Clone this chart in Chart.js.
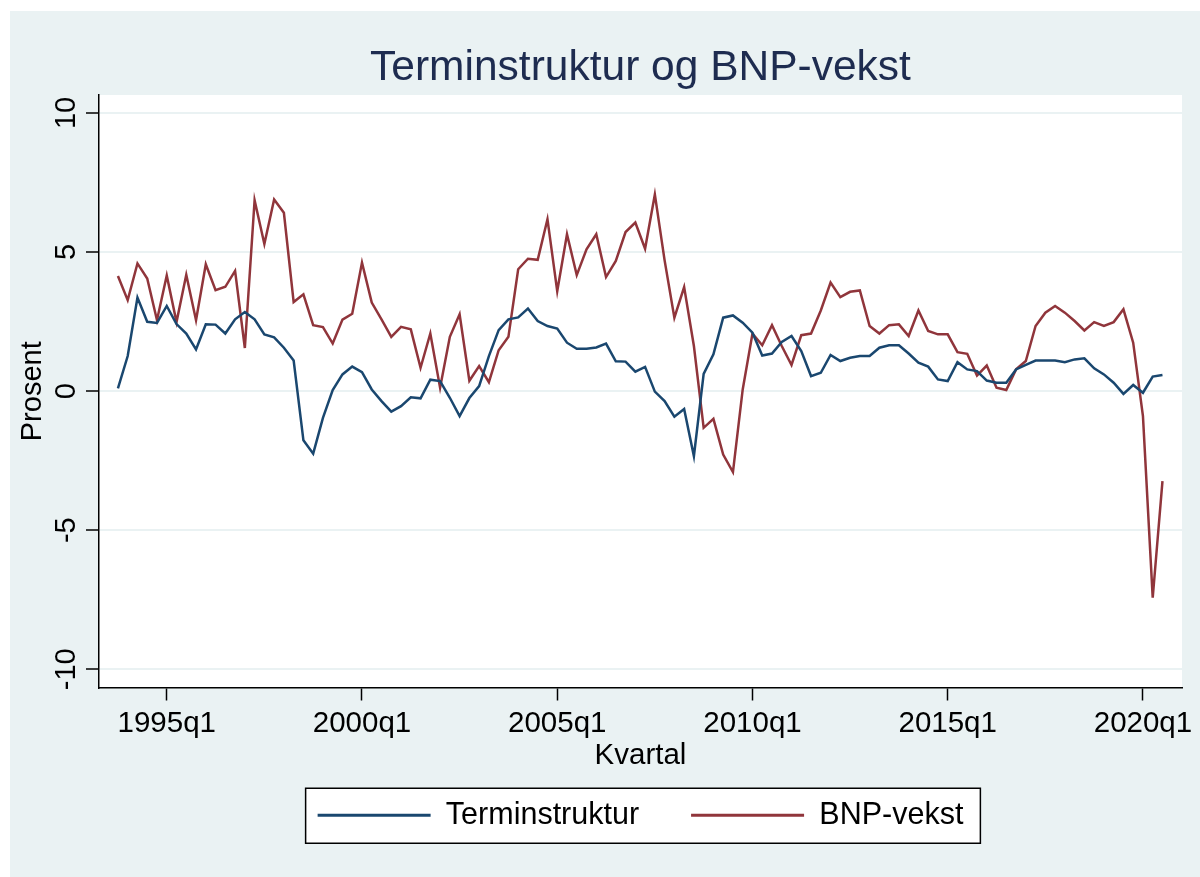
<!DOCTYPE html>
<html>
<head>
<meta charset="utf-8">
<script src="https://cdn.jsdelivr.net/npm/chart.js@4.4.0/dist/chart.umd.min.js"></script>
<style>
  html, body { margin: 0; padding: 0; background: #fff; }
  canvas { display: block; }
</style>
</head>
<body>
<canvas id="chart" width="1200" height="877"></canvas>
<script>
// first observation is 1993q4, one value per quarter up to 2020q3
const firstYear = 1993;
const firstQuarter = 4;

const terminstruktur = [
  0.10, 1.26, 3.36, 2.49, 2.45, 3.06, 2.41, 2.07, 1.50, 2.40,
  2.39, 2.07, 2.58, 2.84, 2.58, 2.04, 1.93, 1.56, 1.10, -1.77,
  -2.25, -0.96, 0.04, 0.60, 0.88, 0.68, 0.06, -0.36, -0.74, -0.54,
  -0.22, -0.26, 0.41, 0.36, -0.24, -0.90, -0.25, 0.18, 1.26, 2.19,
  2.58, 2.65, 2.97, 2.52, 2.34, 2.25, 1.74, 1.52, 1.52, 1.57,
  1.71, 1.07, 1.06, 0.70, 0.87, -0.02, -0.36, -0.92, -0.64, -2.34,
  0.62, 1.32, 2.64, 2.72, 2.46, 2.10, 1.28, 1.35, 1.77, 1.98,
  1.44, 0.54, 0.66, 1.30, 1.08, 1.20, 1.26, 1.26, 1.56, 1.65,
  1.65, 1.35, 1.02, 0.88, 0.42, 0.36, 1.04, 0.78, 0.72, 0.38,
  0.30, 0.30, 0.78, 0.94, 1.10, 1.10, 1.10, 1.04, 1.14, 1.18,
  0.82, 0.60, 0.30, -0.10, 0.22, -0.06, 0.52, 0.58
];

const bnpVekst = [
  4.14, 3.27, 4.59, 4.05, 2.55, 4.16, 2.48, 4.18, 2.55, 4.56,
  3.63, 3.75, 4.32, 1.55, 6.86, 5.29, 6.89, 6.41, 3.20, 3.48,
  2.37, 2.30, 1.71, 2.57, 2.78, 4.62, 3.18, 2.58, 1.95, 2.31,
  2.22, 0.84, 2.07, 0.12, 1.95, 2.76, 0.37, 0.90, 0.32, 1.47,
  1.95, 4.38, 4.76, 4.72, 6.18, 3.59, 5.64, 4.17, 5.10, 5.64,
  4.10, 4.68, 5.72, 6.06, 5.12, 7.07, 4.70, 2.64, 3.74, 1.62,
  -1.32, -1.00, -2.28, -2.91, 0.06, 2.07, 1.65, 2.37, 1.62, 0.94,
  2.01, 2.07, 2.90, 3.90, 3.38, 3.57, 3.62, 2.34, 2.07, 2.37,
  2.40, 1.98, 2.90, 2.16, 2.04, 2.04, 1.40, 1.34, 0.56, 0.92,
  0.12, 0.04, 0.78, 1.08, 2.34, 2.82, 3.06, 2.82, 2.52, 2.18,
  2.48, 2.34, 2.48, 2.94, 1.74, -0.90, -7.43, -3.24
];

const xTickLabels = ['1995q1', '2000q1', '2005q1', '2010q1', '2015q1', '2020q1'];
const yTicks = [-10, -5, 0, 5, 10];

const quarters = terminstruktur.map((_, i) => {
  const q = firstQuarter - 1 + i;
  return (firstYear + Math.floor(q / 4)) + 'q' + (q % 4 + 1);
});

const FONT = "'Liberation Sans', Arial, sans-serif";
const BG = '#eaf2f3';
const BLUE = '#1a476f';
const RED = '#90353b';

// stata-ish frame: outer background, white plot region, legend box, rotated y labels
const stataFrame = {
  id: 'stataFrame',
  afterLayout(chart) {
    // center title and legend over the plot region instead of the whole canvas
    const a = chart.chartArea;
    [chart.legend, chart.titleBlock].forEach(box => {
      const dx = (a.left + a.right) / 2 - (box.left + box.right) / 2;
      box.left += dx;
      box.right += dx;
    });
  },
  beforeDraw(chart) {
    const c = chart.ctx, a = chart.chartArea;
    c.save();
    c.fillStyle = '#fff';
    c.fillRect(0, 0, chart.width, chart.height);
    c.fillStyle = BG;
    c.fillRect(10, 11, chart.width - 10, chart.height - 11);
    c.fillStyle = '#fff';
    c.fillRect(a.left, a.top, a.right - a.left, a.bottom - a.top);

    const hb = chart.legend.legendHitBoxes;
    if (hb && hb.length) {
      const last = hb[hb.length - 1];
      const x1 = hb[0].left - 12;
      const x2 = last.left + last.width + 17;
      const yc = hb[0].top + hb[0].height / 2;
      c.fillStyle = '#fff';
      c.fillRect(x1, yc - 27, x2 - x1, 55);
      c.strokeStyle = '#000';
      c.lineWidth = 1.5;
      c.strokeRect(x1, yc - 27, x2 - x1, 55);
    }
    c.restore();
  },
  afterDraw(chart) {
    const c = chart.ctx, y = chart.scales.y;
    c.save();
    c.fillStyle = '#000';
    c.font = '29px ' + FONT;
    c.textAlign = 'center';
    c.textBaseline = 'alphabetic';
    yTicks.forEach(v => {
      c.save();
      c.translate(75, y.getPixelForValue(v));
      c.rotate(-Math.PI / 2);
      c.fillText(String(v), 0, 0);
      c.restore();
    });
    c.restore();
  }
};

const lineStyle = { borderWidth: 2.5, pointRadius: 0, pointHoverRadius: 0, tension: 0, fill: false };

new Chart(document.getElementById('chart'), {
  type: 'line',
  data: {
    datasets: [
      {
        label: 'Terminstruktur',
        data: terminstruktur.map((v, i) => ({ x: i, y: v })),
        borderColor: BLUE,
        backgroundColor: BLUE,
        ...lineStyle
      },
      {
        label: 'BNP-vekst',
        data: bnpVekst.map((v, i) => ({ x: i, y: v })),
        borderColor: RED,
        backgroundColor: RED,
        ...lineStyle
      }
    ]
  },
  options: {
    responsive: false,
    animation: false,
    devicePixelRatio: 1,
    layout: { padding: { left: 0, right: 18, top: 0, bottom: 36.5 } },
    plugins: {
      title: {
        display: true,
        text: 'Terminstruktur og BNP-vekst',
        color: '#1e2c50',
        font: { family: FONT, size: 42.5, weight: 'normal' },
        padding: { top: 42.5, bottom: 1.5 }
      },
      legend: {
        position: 'bottom',
        labels: {
          boxWidth: 113,
          boxHeight: 3,
          padding: 52,
          color: '#000',
          font: { family: FONT, size: 30.5 },
          generateLabels: chart =>
            Chart.defaults.plugins.legend.labels.generateLabels(chart).map(l => ({ ...l, lineWidth: 0 }))
        }
      },
      tooltip: { enabled: false }
    },
    scales: {
      x: {
        type: 'linear',
        min: -1.94,
        max: 109.0,
        afterBuildTicks: s => { s.ticks = xTickLabels.map(l => ({ value: quarters.indexOf(l) })); },
        afterFit: s => { s.height = 60.5; s.paddingLeft = 0; s.paddingRight = 0; },
        ticks: {
          callback: v => quarters[v],
          color: '#000',
          font: { family: FONT, size: 29.5 },
          padding: 6,
          maxRotation: 0,
          autoSkip: false
        },
        grid: { drawOnChartArea: false, drawTicks: true, tickLength: 13, tickColor: '#000', tickWidth: 1.5 },
        border: { display: true, color: '#000', width: 1.5 },
        title: {
          display: true,
          text: 'Kvartal',
          color: '#000',
          font: { family: FONT, size: 29.5 },
          padding: { top: 0, bottom: -25.2 }
        }
      },
      y: {
        min: -10.656,
        max: 10.645,
        afterBuildTicks: s => { s.ticks = yTicks.map(v => ({ value: v })); },
        afterFit: s => { s.width = 99; },
        ticks: { display: false },
        grid: { color: BG, lineWidth: 2, drawTicks: true, tickLength: 13, tickColor: '#000', tickWidth: 1.5 },
        border: { display: true, color: '#000', width: 1.5 },
        title: {
          display: true,
          text: 'Prosent',
          color: '#000',
          font: { family: FONT, size: 29 },
          padding: { top: 15.6, bottom: 0 }
        }
      }
    }
  },
  plugins: [stataFrame]
});
</script>
</body>
</html>
